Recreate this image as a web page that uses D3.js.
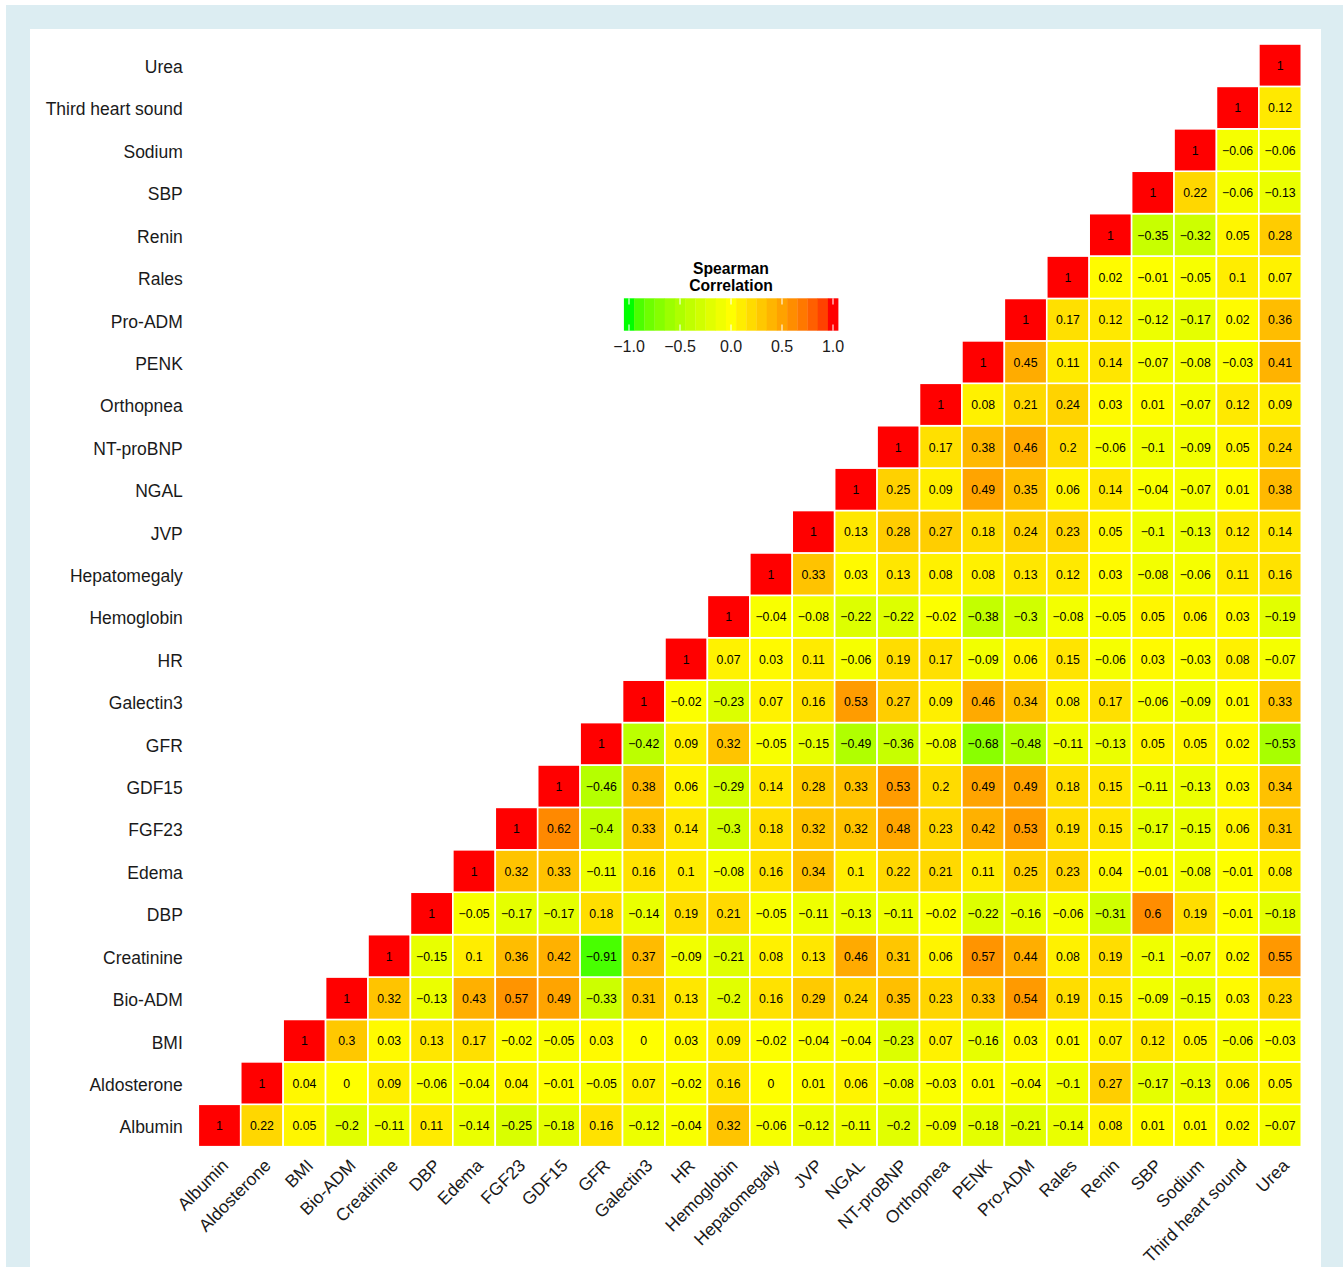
<!DOCTYPE html>
<html>
<head>
<meta charset="utf-8">
<script src="https://cdn.jsdelivr.net/npm/d3@7"></script>
<style>
  html, body { margin: 0; padding: 0; background: #ffffff; }
  svg { display: block; font-family: "Liberation Sans", Arial, Helvetica, sans-serif; }
</style>
</head>
<body>
<svg id="chart" width="1343" height="1267"></svg>
<script>
// Variables, in axis order (left to right, bottom to top)
const variables = ["Albumin", "Aldosterone", "BMI", "Bio-ADM", "Creatinine", "DBP", "Edema",
  "FGF23", "GDF15", "GFR", "Galectin3", "HR", "Hemoglobin", "Hepatomegaly", "JVP", "NGAL",
  "NT-proBNP", "Orthopnea", "PENK", "Pro-ADM", "Rales", "Renin", "SBP", "Sodium",
  "Third heart sound", "Urea"];

// Spearman correlations: each row starts on the diagonal and runs to the last variable
const rAlbumin      = [1, 0.22, 0.05, -0.2, -0.11, 0.11, -0.14, -0.25, -0.18, 0.16, -0.12, -0.04, 0.32, -0.06, -0.12, -0.11, -0.2, -0.09, -0.18, -0.21, -0.14, 0.08, 0.01, 0.01, 0.02, -0.07];
const rAldosterone  = [1, 0.04, 0, 0.09, -0.06, -0.04, 0.04, -0.01, -0.05, 0.07, -0.02, 0.16, 0, 0.01, 0.06, -0.08, -0.03, 0.01, -0.04, -0.1, 0.27, -0.17, -0.13, 0.06, 0.05];
const rBMI          = [1, 0.3, 0.03, 0.13, 0.17, -0.02, -0.05, 0.03, 0, 0.03, 0.09, -0.02, -0.04, -0.04, -0.23, 0.07, -0.16, 0.03, 0.01, 0.07, 0.12, 0.05, -0.06, -0.03];
const rBioADM       = [1, 0.32, -0.13, 0.43, 0.57, 0.49, -0.33, 0.31, 0.13, -0.2, 0.16, 0.29, 0.24, 0.35, 0.23, 0.33, 0.54, 0.19, 0.15, -0.09, -0.15, 0.03, 0.23];
const rCreatinine   = [1, -0.15, 0.1, 0.36, 0.42, -0.91, 0.37, -0.09, -0.21, 0.08, 0.13, 0.46, 0.31, 0.06, 0.57, 0.44, 0.08, 0.19, -0.1, -0.07, 0.02, 0.55];
const rDBP          = [1, -0.05, -0.17, -0.17, 0.18, -0.14, 0.19, 0.21, -0.05, -0.11, -0.13, -0.11, -0.02, -0.22, -0.16, -0.06, -0.31, 0.6, 0.19, -0.01, -0.18];
const rEdema        = [1, 0.32, 0.33, -0.11, 0.16, 0.1, -0.08, 0.16, 0.34, 0.1, 0.22, 0.21, 0.11, 0.25, 0.23, 0.04, -0.01, -0.08, -0.01, 0.08];
const rFGF23        = [1, 0.62, -0.4, 0.33, 0.14, -0.3, 0.18, 0.32, 0.32, 0.48, 0.23, 0.42, 0.53, 0.19, 0.15, -0.17, -0.15, 0.06, 0.31];
const rGDF15        = [1, -0.46, 0.38, 0.06, -0.29, 0.14, 0.28, 0.33, 0.53, 0.2, 0.49, 0.49, 0.18, 0.15, -0.11, -0.13, 0.03, 0.34];
const rGFR          = [1, -0.42, 0.09, 0.32, -0.05, -0.15, -0.49, -0.36, -0.08, -0.68, -0.48, -0.11, -0.13, 0.05, 0.05, 0.02, -0.53];
const rGalectin3    = [1, -0.02, -0.23, 0.07, 0.16, 0.53, 0.27, 0.09, 0.46, 0.34, 0.08, 0.17, -0.06, -0.09, 0.01, 0.33];
const rHR           = [1, 0.07, 0.03, 0.11, -0.06, 0.19, 0.17, -0.09, 0.06, 0.15, -0.06, 0.03, -0.03, 0.08, -0.07];
const rHemoglobin   = [1, -0.04, -0.08, -0.22, -0.22, -0.02, -0.38, -0.3, -0.08, -0.05, 0.05, 0.06, 0.03, -0.19];
const rHepatomegaly = [1, 0.33, 0.03, 0.13, 0.08, 0.08, 0.13, 0.12, 0.03, -0.08, -0.06, 0.11, 0.16];
const rJVP          = [1, 0.13, 0.28, 0.27, 0.18, 0.24, 0.23, 0.05, -0.1, -0.13, 0.12, 0.14];
const rNGAL         = [1, 0.25, 0.09, 0.49, 0.35, 0.06, 0.14, -0.04, -0.07, 0.01, 0.38];
const rNTproBNP     = [1, 0.17, 0.38, 0.46, 0.2, -0.06, -0.1, -0.09, 0.05, 0.24];
const rOrthopnea    = [1, 0.08, 0.21, 0.24, 0.03, 0.01, -0.07, 0.12, 0.09];
const rPENK         = [1, 0.45, 0.11, 0.14, -0.07, -0.08, -0.03, 0.41];
const rProADM       = [1, 0.17, 0.12, -0.12, -0.17, 0.02, 0.36];
const rRales        = [1, 0.02, -0.01, -0.05, 0.1, 0.07];
const rRenin        = [1, -0.35, -0.32, 0.05, 0.28];
const rSBP          = [1, 0.22, -0.06, -0.13];
const rSodium       = [1, -0.06, -0.06];
const rThirdHeart   = [1, 0.12];
const rUrea         = [1];

const legendTitle = ["Spearman", "Correlation"];
const legendTicks = [-1, -0.5, 0, 0.5, 1];

const rowValues = [rAlbumin, rAldosterone, rBMI, rBioADM, rCreatinine, rDBP, rEdema, rFGF23,
  rGDF15, rGFR, rGalectin3, rHR, rHemoglobin, rHepatomegaly, rJVP, rNGAL, rNTproBNP,
  rOrthopnea, rPENK, rProADM, rRales, rRenin, rSBP, rSodium, rThirdHeart, rUrea];

// Long-format cell table
const cells = [];
rowValues.forEach((vals, i) => {
  vals.forEach((v, k) => {
    cells.push({ row: variables[i], col: variables[i + k], value: v });
  });
});

const svg = d3.select("#chart");
const W = 1343, H = 1267;

// Page frame
svg.append("rect").attr("x", 6).attr("y", 5).attr("width", W - 6).attr("height", H - 5)
  .attr("fill", "#dcedf2");
svg.append("rect").attr("x", 30).attr("y", 29).attr("width", 1291).attr("height", H - 29)
  .attr("fill", "#ffffff");

const x = d3.scaleBand().domain(variables).range([198.3, 1301.3]).padding(0);
const y = d3.scaleBand().domain(variables.slice().reverse()).range([44, 1146.7]).padding(0);

const color = d3.scaleLinear()
  .domain([-1, 0, 1])
  .range(["#00ff00", "#ffff00", "#ff0000"])
  .interpolate(d3.interpolateLab)
  .clamp(true);

const fmt = v => String(v).replace("-", "\u2212");

// Cells
const g = svg.append("g");
g.selectAll("rect.cell")
  .data(cells)
  .join("rect")
  .attr("class", "cell")
  .attr("x", d => x(d.col))
  .attr("y", d => y(d.row))
  .attr("width", x.bandwidth())
  .attr("height", y.bandwidth())
  .attr("fill", d => color(d.value))
  .attr("stroke", "#ffffff")
  .attr("stroke-width", 1.6);

g.selectAll("text.val")
  .data(cells)
  .join("text")
  .attr("class", "val")
  .attr("x", d => x(d.col) + x.bandwidth() / 2)
  .attr("y", d => y(d.row) + y.bandwidth() / 2)
  .attr("dy", "0.38em")
  .attr("text-anchor", "middle")
  .attr("font-size", 12.3)
  .attr("fill", "#000000")
  .text(d => fmt(d.value));

// Row labels (left)
const yAxis = d3.axisLeft(y).tickSize(0).tickPadding(15.5);
const gy = svg.append("g").attr("transform", `translate(${198.3},0)`).call(yAxis);
gy.select(".domain").remove();
gy.selectAll("text")
  .attr("font-size", 17.5)
  .attr("font-family", "'Liberation Sans', Arial, sans-serif")
  .attr("fill", "#1a1a1a")
  .attr("dy", "0.45em");

// Column labels (bottom, rotated)
const xAxis = d3.axisBottom(x).tickSize(0).tickPadding(0);
const gx = svg.append("g").attr("transform", `translate(0,${1146.7})`).call(xAxis);
gx.select(".domain").remove();
gx.selectAll("text")
  .attr("font-size", 17.5)
  .attr("font-family", "'Liberation Sans', Arial, sans-serif")
  .attr("fill", "#1a1a1a")
  .attr("text-anchor", "end")
  .attr("dy", null)
  .attr("y", 0)
  .attr("transform", "translate(10,20) rotate(-45)");

// Legend
const legX = d3.scaleLinear().domain([-1, 1]).range([629, 833]);
const leg = svg.append("g");
leg.selectAll("text.title")
  .data(legendTitle)
  .join("text")
  .attr("class", "title")
  .attr("x", legX(0))
  .attr("y", (d, i) => 274 + i * 17)
  .attr("text-anchor", "middle")
  .attr("font-weight", "bold")
  .attr("font-size", 15.7)
  .attr("fill", "#000")
  .text(d => d);

const steps = d3.range(-1, 1.0001, 0.1).map(v => Math.round(v * 10) / 10);
const stepW = legX(0.1) - legX(0);
leg.selectAll("rect.step")
  .data(steps)
  .join("rect")
  .attr("class", "step")
  .attr("x", d => legX(d) - stepW / 2)
  .attr("y", 298.3)
  .attr("width", stepW + 0.3)
  .attr("height", 32.4)
  .attr("fill", d => color(d));

leg.selectAll("line.tickTop")
  .data(legendTicks)
  .join("line")
  .attr("class", "tickTop")
  .attr("x1", d => legX(d)).attr("x2", d => legX(d))
  .attr("y1", 298.3).attr("y2", 304.5)
  .attr("stroke", "#ffffff").attr("stroke-opacity", 0.7).attr("stroke-width", 1.5);
leg.selectAll("line.tickBot")
  .data(legendTicks)
  .join("line")
  .attr("class", "tickBot")
  .attr("x1", d => legX(d)).attr("x2", d => legX(d))
  .attr("y1", 324.5).attr("y2", 330.7)
  .attr("stroke", "#ffffff").attr("stroke-opacity", 0.7).attr("stroke-width", 1.5);

leg.selectAll("text.tick")
  .data(legendTicks)
  .join("text")
  .attr("class", "tick")
  .attr("x", d => legX(d))
  .attr("y", 351.5)
  .attr("text-anchor", "middle")
  .attr("font-size", 16)
  .attr("fill", "#1a1a1a")
  .text(d => fmt(d3.format(".1f")(d)));
</script>
</body>
</html>
